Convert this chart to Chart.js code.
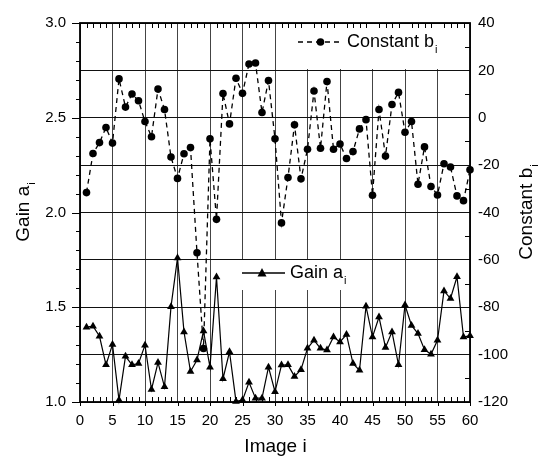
<!DOCTYPE html>
<html><head><meta charset="utf-8">
<script src="https://cdn.jsdelivr.net/npm/chart.js@4/dist/chart.umd.min.js"></script>
<style>html,body{margin:0;padding:0;background:#fff;}#c{display:block;}</style>
</head><body>
<canvas id="c" width="544" height="461"></canvas>
<script>
// ---- data ----
const imageIndex = [1,2,3,4,5,6,7,8,9,10,11,12,13,14,15,16,17,18,19,20,21,22,23,24,25,26,27,28,29,30,31,32,33,34,35,36,37,38,39,40,41,42,43,44,45,46,47,48,49,50,51,52,53,54,55,56,57,58,59,60];
const gainA = [1.395,1.40,1.347,1.196,1.304,1.01,1.241,1.196,1.203,1.30,1.066,1.208,1.08,1.503,1.76,1.37,1.161,1.222,1.375,1.184,1.659,1.123,1.265,1.003,1.01,1.104,1.02,1.02,1.184,1.054,1.195,1.196,1.135,1.17,1.283,1.326,1.283,1.274,1.343,1.317,1.356,1.203,1.167,1.505,1.343,1.448,1.288,1.37,1.196,1.512,1.404,1.361,1.276,1.252,1.326,1.586,1.546,1.661,1.343,1.35];
const constantB = [-31.6,-15.1,-10.5,-4.1,-10.7,16.4,4.5,10.0,7.2,-1.6,-8.0,12.1,3.5,-16.6,-25.6,-15.2,-12.6,-57.0,-97.4,-8.9,-42.9,10.2,-2.6,16.7,10.3,22.7,23.1,2.2,15.7,-8.9,-44.4,-25.2,-3.0,-25.8,-13.3,11.3,-12.9,15.3,-13.3,-11.1,-17.2,-14.3,-4.7,-0.8,-32.7,3.5,-16.2,5.6,10.7,-6.1,-1.6,-28.1,-12.3,-29.0,-32.6,-19.4,-20.8,-33.0,-35.0,-22.0];
const xTickLabels = [0,5,10,15,20,25,30,35,40,45,50,55,60];
const gainTickLabels = [1.0,1.5,2.0,2.5,3.0];
const constantTickLabels = [-120,-100,-80,-60,-40,-20,0,20,40];

const FONT = "'Liberation Sans', Arial, Helvetica, sans-serif";
Chart.defaults.font.family = FONT;
Chart.defaults.color = '#000';

function subText(ctx, main, sub, x, y, rot, size, subSize) {
  ctx.save();
  ctx.translate(x, y);
  ctx.rotate(rot);
  ctx.font = size + 'px ' + FONT;
  const w1 = ctx.measureText(main).width;
  ctx.font = subSize + 'px ' + FONT;
  const w2 = ctx.measureText(sub).width;
  const total = w1 + 1 + w2;
  ctx.fillStyle = '#000';
  ctx.textBaseline = 'middle';
  ctx.textAlign = 'left';
  ctx.font = size + 'px ' + FONT;
  ctx.fillText(main, -total / 2, 0);
  ctx.font = subSize + 'px ' + FONT;
  ctx.fillText(sub, -total / 2 + w1 + 1, size * 0.42);
  ctx.restore();
}
function subTextLeft(ctx, main, sub, x, y, size, subSize) {
  ctx.save();
  ctx.fillStyle = '#000';
  ctx.textBaseline = 'middle';
  ctx.textAlign = 'left';
  ctx.font = size + 'px ' + FONT;
  const w1 = ctx.measureText(main).width;
  ctx.fillText(main, x, y);
  ctx.font = subSize + 'px ' + FONT;
  ctx.fillText(sub, x + w1 + 1, y + size * 0.42);
  ctx.restore();
}

const decor = {
  id: 'decor',
  beforeDatasetsDraw(chart) {
    const ctx = chart.ctx, a = chart.chartArea;
    ctx.save();
    ctx.fillStyle = '#fff';
    ctx.fillRect(290, a.top + 1, a.right - 291, 45);
    ctx.fillRect(236, 260, 120, 30);
    ctx.restore();
  },
  afterDraw(chart) {
    const ctx = chart.ctx, a = chart.chartArea;
    const xs = chart.scales.x, yl = chart.scales.y, yr = chart.scales.y1;
    ctx.save();
    ctx.strokeStyle = '#000';
    ctx.lineWidth = 1;
    ctx.beginPath();
    for (let i = 0; i <= 60; i++) {
      const px = Math.round(xs.getPixelForValue(i)) + 0.5;
      if (i % 5 === 0) {
        ctx.moveTo(px, a.bottom); ctx.lineTo(px, a.bottom + 4);
      } else {
        ctx.moveTo(px, a.bottom); ctx.lineTo(px, a.bottom - 5);
        ctx.moveTo(px, a.top); ctx.lineTo(px, a.top + 5);
      }
    }
    for (let k = 0; k <= 20; k++) {
      const v = 1 + k * 0.1;
      const py = Math.round(yl.getPixelForValue(v)) + 0.5;
      const len = (k % 5 === 0) ? 8 : 4;
      ctx.moveTo(a.left - len, py); ctx.lineTo(a.left, py);
    }
    for (let k = 0; k <= 16; k++) {
      const v = -120 + k * 10;
      const py = Math.round(yr.getPixelForValue(v)) + 0.5;
      if (k % 2 === 1) { ctx.moveTo(a.right - 5, py); ctx.lineTo(a.right, py); }
    }
    ctx.stroke();
    ctx.lineWidth = 1.8;
    ctx.strokeRect(a.left, a.top, a.right - a.left, a.bottom - a.top);
    ctx.restore();

    ctx.save();
    ctx.strokeStyle = '#000'; ctx.fillStyle = '#000';
    ctx.lineWidth = 1.3; ctx.setLineDash([5, 4]);
    ctx.beginPath(); ctx.moveTo(298, 42); ctx.lineTo(343, 42); ctx.stroke();
    ctx.setLineDash([]);
    ctx.beginPath(); ctx.arc(320.5, 42, 3.8, 0, Math.PI * 2); ctx.fill();
    subTextLeft(ctx, 'Constant b', 'i', 347, 42, 18, 11);
    ctx.lineWidth = 1.3;
    ctx.beginPath(); ctx.moveTo(242, 273); ctx.lineTo(285, 273); ctx.stroke();
    ctx.beginPath(); ctx.moveTo(262, 268); ctx.lineTo(266.5, 276.5); ctx.lineTo(257.5, 276.5); ctx.closePath(); ctx.fill();
    subTextLeft(ctx, 'Gain a', 'i', 290, 273, 18, 11);
    ctx.restore();

    subText(ctx, 'Gain a', 'i', 24, 212, -Math.PI / 2, 19, 11);
    subText(ctx, 'Constant b', 'i', 527, 212, -Math.PI / 2, 19, 11);
    subText(ctx, 'Image i', '', 276, 447, 0, 19, 11);
  }
};

new Chart(document.getElementById('c').getContext('2d'), {
  type: 'line',
  data: {
    datasets: [
      {
        label: 'Constant b',
        data: constantB.map((v, i) => ({ x: imageIndex[i], y: v })),
        yAxisID: 'y1',
        borderColor: '#000', borderWidth: 1.3, borderDash: [5, 4],
        pointStyle: 'circle', pointRadius: 3.8, pointBackgroundColor: '#000', pointBorderColor: '#000', pointBorderWidth: 0,
        tension: 0, clip: false
      },
      {
        label: 'Gain a',
        data: gainA.map((v, i) => ({ x: imageIndex[i], y: v })),
        yAxisID: 'y',
        borderColor: '#000', borderWidth: 1.2,
        pointStyle: 'triangle', pointRadius: 4.5, pointBackgroundColor: '#000', pointBorderColor: '#000', pointBorderWidth: 0,
        tension: 0, clip: false
      }
    ]
  },
  options: {
    responsive: false, animation: false, devicePixelRatio: 1,
    layout: { padding: { top: 17, left: 0, right: 0, bottom: 0 } },
    plugins: { legend: { display: false }, tooltip: { enabled: false } },
    scales: {
      x: {
        type: 'linear', position: 'bottom', min: 0, max: 60,
        afterBuildTicks: s => { s.ticks = xTickLabels.map(v => ({ value: v })); },
        ticks: { font: { size: 15 }, padding: 10, maxRotation: 0, autoSkip: false },
        grid: { color: '#444', lineWidth: 1, drawTicks: false },
        border: { display: false },
        afterFit: s => { s.height = 59; }
      },
      y: {
        type: 'linear', position: 'left', min: 1, max: 3,
        afterBuildTicks: s => { s.ticks = gainTickLabels.map(v => ({ value: v })); },
        ticks: { font: { size: 15 }, padding: 14, callback: v => Number(v).toFixed(1) },
        grid: { display: false, drawTicks: false },
        border: { display: false },
        afterFit: s => { s.width = 80; }
      },
      y1: {
        type: 'linear', position: 'right', min: -120, max: 40,
        afterBuildTicks: s => { s.ticks = constantTickLabels.map(v => ({ value: v })); },
        ticks: { font: { size: 15 }, padding: 8 },
        grid: { color: '#111', lineWidth: 1, drawTicks: false },
        border: { display: false },
        afterFit: s => { s.width = 74; }
      }
    }
  },
  plugins: [decor]
});
</script>
</body></html>
